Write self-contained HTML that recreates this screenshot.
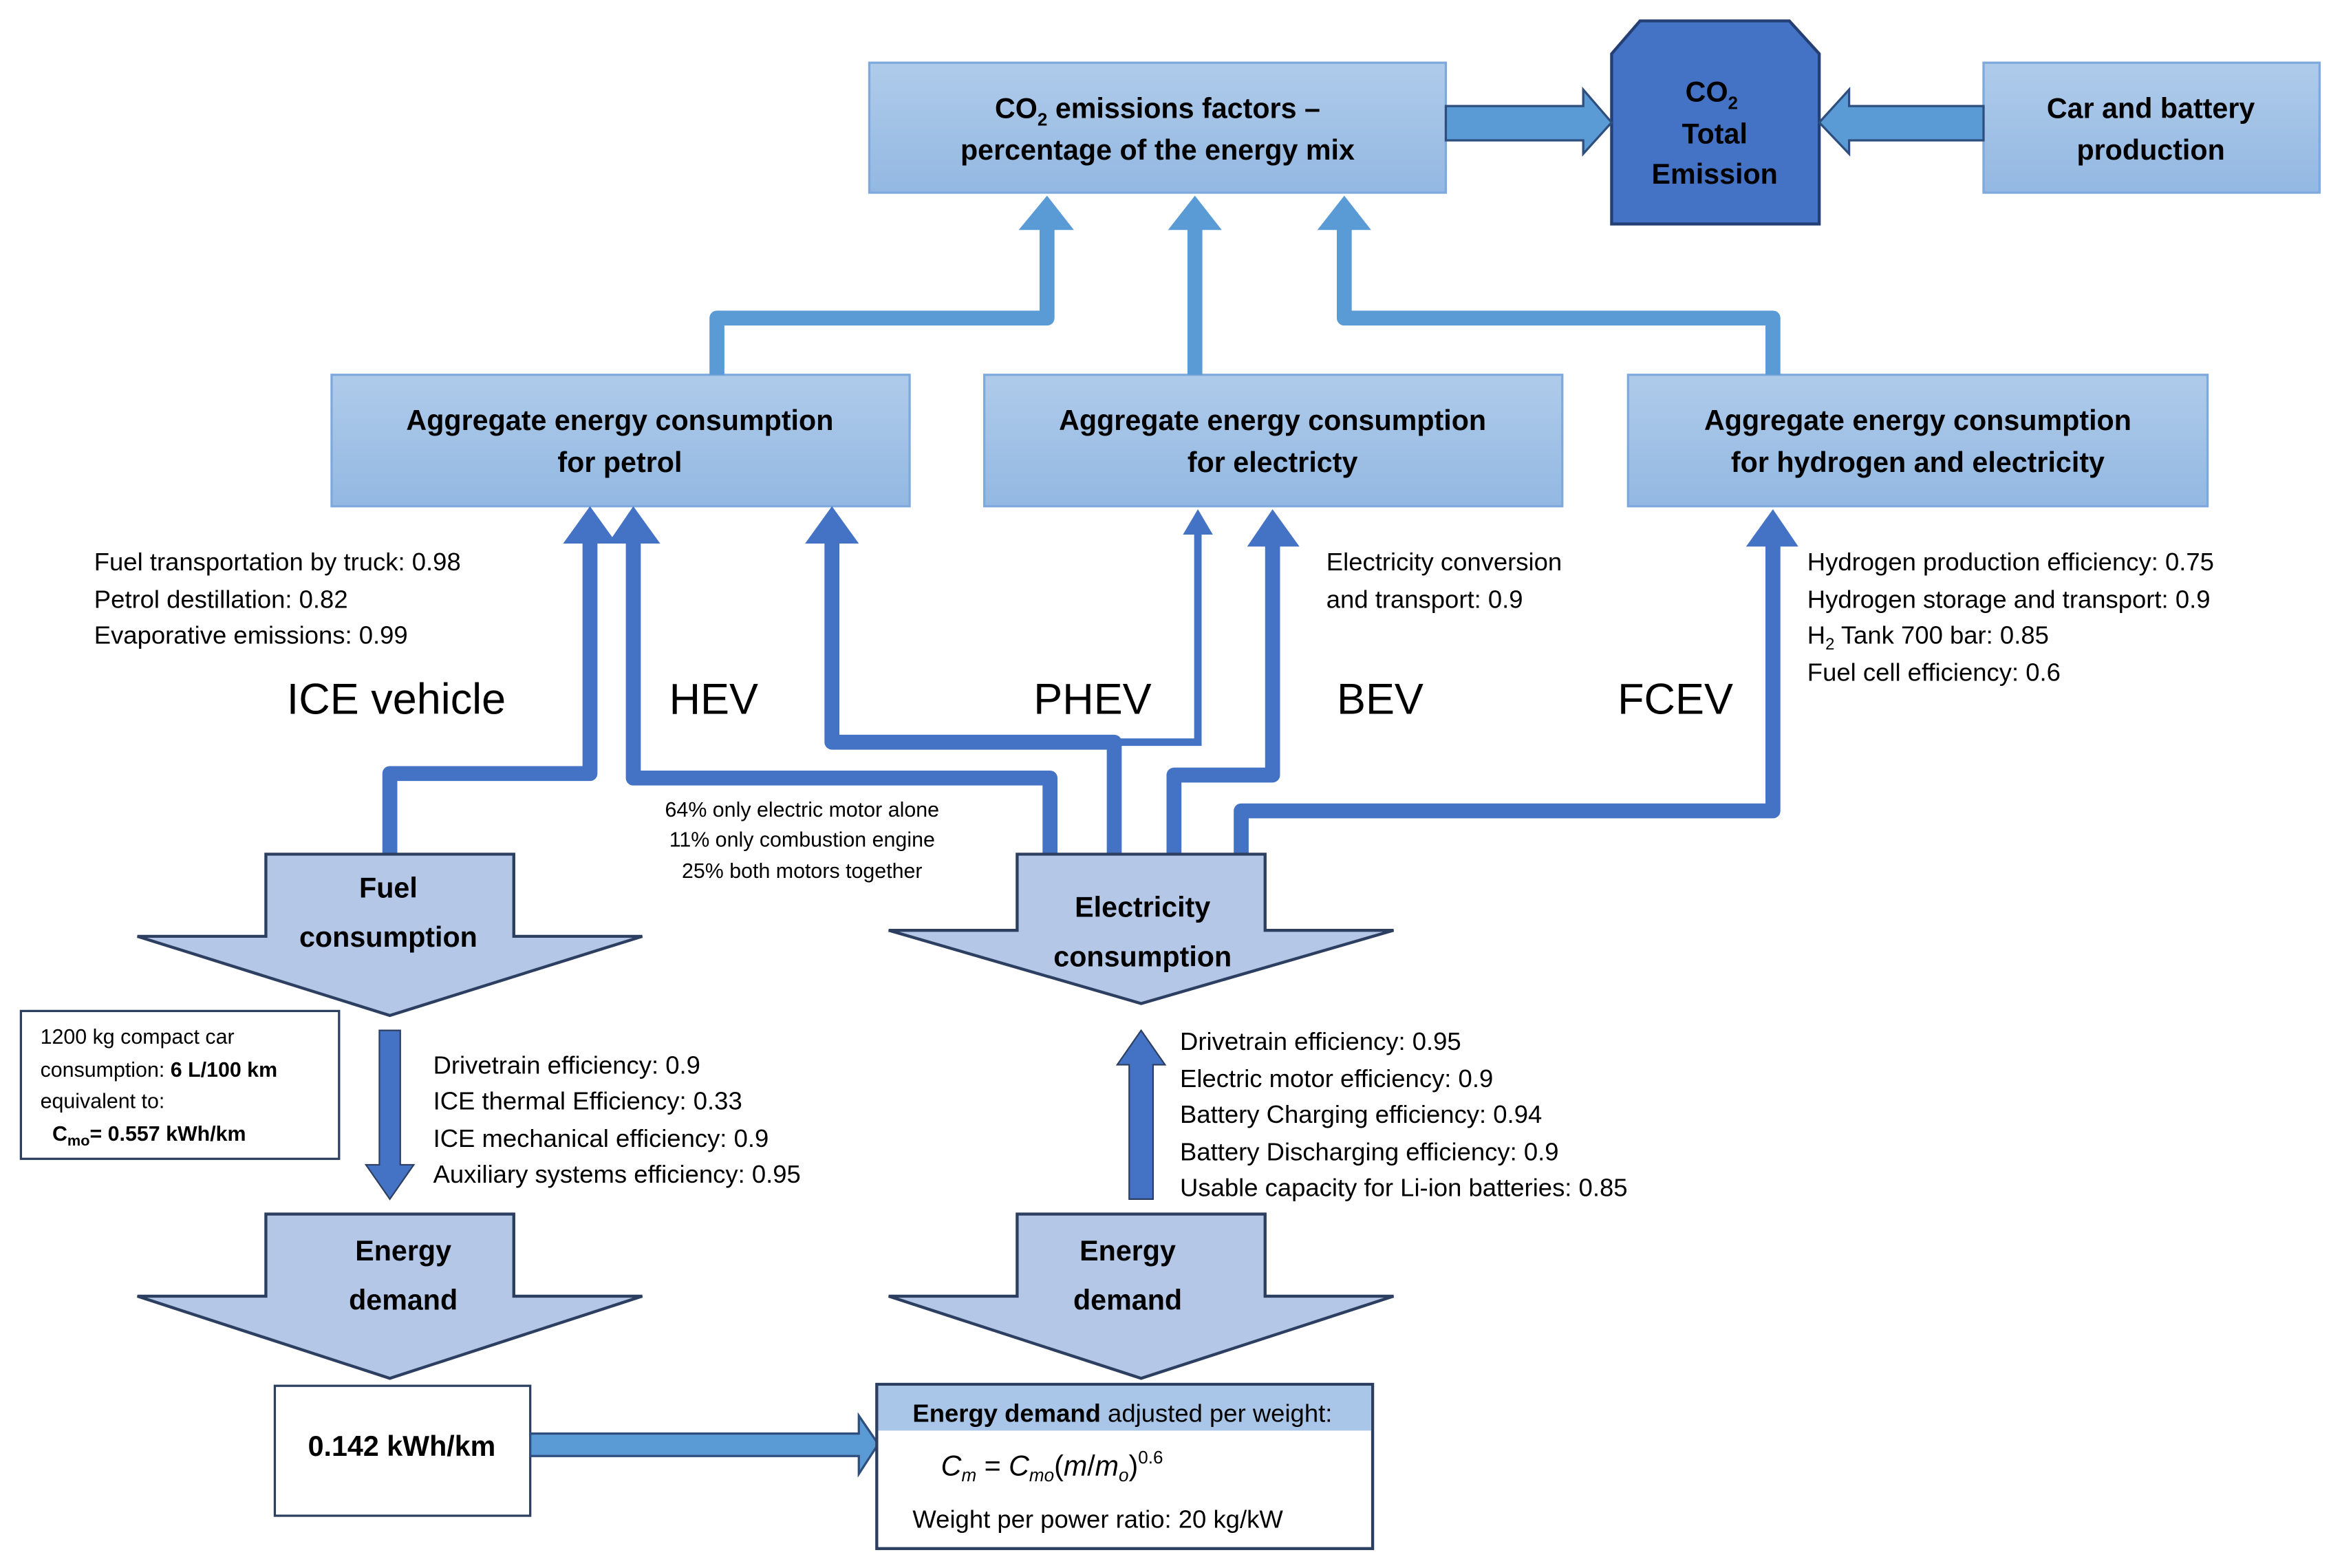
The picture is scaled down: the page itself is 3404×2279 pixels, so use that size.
<!DOCTYPE html>
<html><head><meta charset="utf-8"><style>
html,body{margin:0;padding:0;background:#fff}
svg{display:block}
text{font-family:"Liberation Sans",sans-serif;fill:#000}
.b{font-weight:bold;font-size:19px}
.s{font-size:16.8px}
.xs{font-size:14px}
.big{font-size:29px}
</style></head><body>
<svg width="3404" height="2279" viewBox="0 0 1568 1050" preserveAspectRatio="none" xmlns="http://www.w3.org/2000/svg">
<defs>
<linearGradient id="g" x1="0" y1="0" x2="0" y2="1">
<stop offset="0" stop-color="#afcbea"/><stop offset="1" stop-color="#93b8e2"/>
</linearGradient>
</defs>

<rect x="582" y="42" width="386" height="87" fill="url(#g)" stroke="#7ea9dd" stroke-width="1.5"/>
<rect x="1328" y="42" width="225" height="87" fill="url(#g)" stroke="#7ea9dd" stroke-width="1.5"/>
<polygon points="1098,14 1198,14 1218,36 1218,150 1079,150 1079,36" fill="#4472c4" stroke="#243f73" stroke-width="2"/>
<text class="b" x="775" y="79" text-anchor="middle">CO<tspan font-size="12" dy="5">2</tspan><tspan dy="-5"> emissions factors –</tspan></text>
<text class="b" x="775" y="107" text-anchor="middle">percentage of the energy mix</text>
<text class="b" x="1440" y="79" text-anchor="middle">Car and battery</text>
<text class="b" x="1440" y="107" text-anchor="middle">production</text>
<text class="b" x="1146" y="68" text-anchor="middle">CO<tspan font-size="12" dy="5">2</tspan></text>
<text class="b" x="1148" y="96" text-anchor="middle">Total</text>
<text class="b" x="1148" y="123" text-anchor="middle">Emission</text>

<polygon points="968,71 1060,71 1060,60 1079,82 1060,103 1060,94 968,94" fill="#5b9bd5" stroke="#2e4f7d" stroke-width="1.5"/>
<polygon points="1328,71 1238,71 1238,60 1218,82 1238,103 1238,94 1328,94" fill="#5b9bd5" stroke="#2e4f7d" stroke-width="1.5"/>

<rect x="222" y="251" width="387" height="88" fill="url(#g)" stroke="#7ea9dd" stroke-width="1.5"/>
<rect x="659" y="251" width="387" height="88" fill="url(#g)" stroke="#7ea9dd" stroke-width="1.5"/>
<rect x="1090" y="251" width="388" height="88" fill="url(#g)" stroke="#7ea9dd" stroke-width="1.5"/>
<text class="b" x="415" y="288" text-anchor="middle">Aggregate energy consumption</text>
<text class="b" x="415" y="316" text-anchor="middle">for petrol</text>
<text class="b" x="852" y="288" text-anchor="middle">Aggregate energy consumption</text>
<text class="b" x="852" y="316" text-anchor="middle">for electricty</text>
<text class="b" x="1284" y="288" text-anchor="middle">Aggregate energy consumption</text>
<text class="b" x="1284" y="316" text-anchor="middle">for hydrogen and electricity</text>

<g fill="none" stroke="#5b9bd5" stroke-width="10" stroke-linejoin="round">
<polyline points="480,251 480,213 701,213 701,150"/>
<polyline points="800,251 800,150"/>
<polyline points="1187,251 1187,213 900,213 900,150"/>
</g>
<g fill="#5b9bd5">
<polygon points="682,154 701,131 719,154"/>
<polygon points="782,154 800,131 818,154"/>
<polygon points="882,154 900,131 918,154"/>
</g>

<g fill="none" stroke="#4472c4" stroke-width="10" stroke-linejoin="round">
<polyline points="261,573 261,518 395,518 395,360"/>
<polyline points="703,573 703,521 424,521 424,360"/>
<polyline points="746,573 746,497 557,497 557,360"/>
<polyline points="786,573 786,519 852,519 852,362"/>
<polyline points="831,573 831,543 1187,543 1187,362"/>
</g>
<polyline points="746,497 802,497 802,355" fill="none" stroke="#4472c4" stroke-width="5"/>
<g fill="#4472c4">
<polygon points="377,364 395,339 413,364"/>
<polygon points="407,364 424,339 442,364"/>
<polygon points="539,364 557,339 575,364"/>
<polygon points="792,358 802,341 812,358"/>
<polygon points="835,366 852,341 870,366"/>
<polygon points="1169,366 1187,341 1204,366"/>
</g>

<text class="s" x="63" y="382">Fuel transportation by truck: 0.98</text>
<text class="s" x="63" y="407">Petrol destillation: 0.82</text>
<text class="s" x="63" y="431">Evaporative emissions: 0.99</text>
<text class="s" x="888" y="382">Electricity conversion</text>
<text class="s" x="888" y="407">and transport: 0.9</text>
<text class="s" x="1210" y="382">Hydrogen production efficiency: 0.75</text>
<text class="s" x="1210" y="407">Hydrogen storage and transport: 0.9</text>
<text class="s" x="1210" y="431">H<tspan font-size="11" dy="4">2</tspan><tspan dy="-4"> Tank 700 bar:  0.85</tspan></text>
<text class="s" x="1210" y="456">Fuel cell efficiency: 0.6</text>

<text class="big" x="192" y="478">ICE vehicle</text>
<text class="big" x="448" y="478">HEV</text>
<text class="big" x="692" y="478">PHEV</text>
<text class="big" x="895" y="478">BEV</text>
<text class="big" x="1083" y="478">FCEV</text>

<text class="xs" x="537" y="547" text-anchor="middle">64% only electric motor alone</text>
<text class="xs" x="537" y="567" text-anchor="middle">11% only combustion engine</text>
<text class="xs" x="537" y="588" text-anchor="middle">25% both motors together</text>

<g fill="#b4c7e7" stroke="#2d3f60" stroke-width="2" stroke-linejoin="miter">
<polygon points="178,572 344,572 344,627 430,627 261,680 92,627 178,627"/>
<polygon points="681,572 847,572 847,623 933,623 764,672 595,623 681,623"/>
<polygon points="178,813 344,813 344,868 430,868 261,923 92,868 178,868"/>
<polygon points="681,813 847,813 847,868 933,868 764,923 595,868 681,868"/>
</g>
<text class="b" x="260" y="601" text-anchor="middle" font-size="23">Fuel</text>
<text class="b" x="260" y="634" text-anchor="middle" font-size="23">consumption</text>
<text class="b" x="765" y="614" text-anchor="middle" font-size="23">Electricity</text>
<text class="b" x="765" y="647" text-anchor="middle" font-size="23">consumption</text>
<text class="b" x="270" y="844" text-anchor="middle" font-size="23">Energy</text>
<text class="b" x="270" y="877" text-anchor="middle" font-size="23">demand</text>
<text class="b" x="755" y="844" text-anchor="middle" font-size="23">Energy</text>
<text class="b" x="755" y="877" text-anchor="middle" font-size="23">demand</text>

<polygon points="254,690 268,690 268,780 277,780 261,803 245,780 254,780" fill="#4472c4" stroke="#2d3f60" stroke-width="1"/>
<polygon points="756,803 772,803 772,713 780,713 764,690 748,713 756,713" fill="#4472c4" stroke="#2d3f60" stroke-width="1"/>

<text class="s" x="290" y="719">Drivetrain efficiency: 0.9</text>
<text class="s" x="290" y="743">ICE thermal Efficiency: 0.33</text>
<text class="s" x="290" y="768">ICE mechanical efficiency: 0.9</text>
<text class="s" x="290" y="792">Auxiliary systems efficiency: 0.95</text>

<text class="s" x="790" y="703">Drivetrain efficiency: 0.95</text>
<text class="s" x="790" y="728">Electric motor efficiency: 0.9</text>
<text class="s" x="790" y="752">Battery Charging efficiency: 0.94</text>
<text class="s" x="790" y="777">Battery Discharging efficiency: 0.9</text>
<text class="s" x="790" y="801">Usable capacity for Li-ion batteries: 0.85</text>

<rect x="14" y="677" width="213" height="99" fill="#fff" stroke="#2d3f60" stroke-width="1.5"/>
<text class="xs" x="27" y="699">1200 kg compact car</text>
<text class="xs" x="27" y="721">consumption: <tspan font-weight="bold">6 L/100 km</tspan></text>
<text class="xs" x="27" y="742">equivalent to:</text>
<text class="xs" x="35" y="764" font-weight="bold">C<tspan font-size="10" dy="3">mo</tspan><tspan dy="-3">=  0.557 kWh/km</tspan></text>

<rect x="184" y="928" width="171" height="87" fill="#fff" stroke="#2d3f60" stroke-width="1.5"/>
<text class="b" x="269" y="975" text-anchor="middle" font-size="16.5">0.142 kWh/km</text>
<polygon points="355,960 575,960 575,948 588,967 575,987 575,975 355,975" fill="#5b9bd5" stroke="#2e4f7d" stroke-width="1.5"/>
<rect x="587" y="927" width="332" height="110" fill="#fff" stroke="#2d3f60" stroke-width="2"/>
<rect x="588" y="928" width="330" height="30" fill="#a9c6e8"/>
<text class="s" x="611" y="952" font-size="16"><tspan font-weight="bold">Energy demand</tspan> adjusted per weight:</text>
<text x="630" y="988" font-family="Liberation Serif, serif" font-style="italic" font-size="19">C<tspan font-size="12" dy="4">m</tspan><tspan dy="-4" font-style="normal"> = </tspan>C<tspan font-size="12" dy="4">mo</tspan><tspan dy="-4" font-style="normal">(</tspan>m<tspan font-style="normal">/</tspan>m<tspan font-size="12" dy="4">o</tspan><tspan dy="-4" font-style="normal">)</tspan><tspan font-size="12" dy="-8" font-style="normal">0.6</tspan></text>
<text class="s" x="611" y="1023">Weight per power ratio: 20 kg/kW</text>
</svg>
</body></html>
